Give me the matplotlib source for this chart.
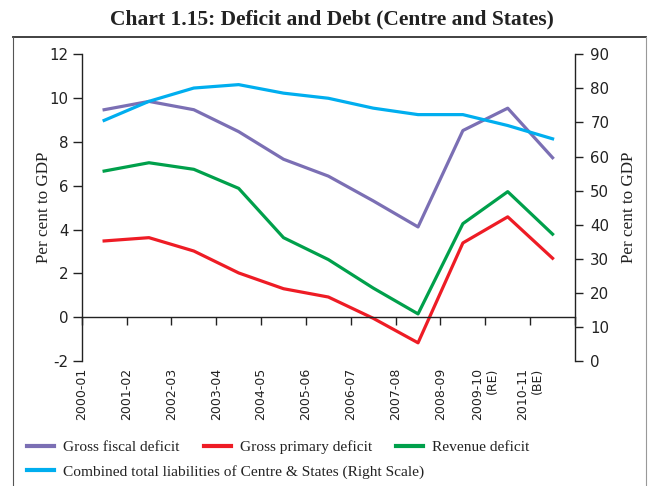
import numpy as np
import matplotlib.pyplot as plt
from matplotlib.lines import Line2D

plt.rcParams['axes.unicode_minus'] = False

# data (per cent to GDP)
years = ['2000-01', '2001-02', '2002-03', '2003-04', '2004-05', '2005-06',
         '2006-07', '2007-08', '2008-09', '2009-10\n(RE)', '2010-11\n(BE)']
gross_fiscal = [9.47, 9.85, 9.47, 8.47, 7.21, 6.44, 5.31, 4.12, 8.52, 9.54, 7.28]
gross_primary = [3.48, 3.63, 3.02, 2.02, 1.30, 0.92, -0.05, -1.17, 3.39, 4.58, 2.69]
revenue = [6.67, 7.05, 6.75, 5.88, 3.63, 2.63, 1.33, 0.15, 4.27, 5.73, 3.79]
liabilities = [70.6, 76.2, 80.1, 81.1, 78.6, 77.1, 74.2, 72.3, 72.3, 69.1, 65.2]

c_purple = '#7B6FB4'
c_red = '#EE1C25'
c_green = '#00A04B'
c_blue = '#00AEEF'

serif = 'Liberation Serif'
W, H = 648, 486

fig = plt.figure(figsize=(6.48, 4.86), dpi=100)
ax = fig.add_axes([81.7 / W, 1 - 361 / H, (575 - 81.7) / W, (361 - 54.3) / H])
ax2 = ax.twinx()

x = np.arange(len(years)) + 0.5
lw = 2.3
l1, = ax.plot(x, gross_fiscal, color=c_purple, lw=lw, label='Gross fiscal deficit')
l2, = ax.plot(x, gross_primary, color=c_red, lw=lw, label='Gross primary deficit')
l3, = ax.plot(x, revenue, color=c_green, lw=lw, label='Revenue deficit')
l4, = ax2.plot(x, liabilities, color=c_blue, lw=lw,
               label='Combined total liabilities of Centre & States (Right Scale)')

ax.set_xlim(0, len(years))
ax.set_ylim(-2, 12)
ax2.set_ylim(0, 90)
ax.set_yticks(np.arange(-2, 13, 2))
ax2.set_yticks(np.arange(0, 91, 10))

tc = '#222222'
for a in (ax, ax2):
    a.spines['top'].set_visible(False)
    a.patch.set_visible(False)
ax.spines['right'].set_visible(False)
ax2.spines['left'].set_visible(False)
ax2.spines['bottom'].set_visible(False)
ax.spines['bottom'].set_position(('data', 0))
for s in ('left', 'bottom'):
    ax.spines[s].set_color(tc)
    ax.spines[s].set_linewidth(1.0)
ax2.spines['right'].set_color(tc)
ax2.spines['right'].set_linewidth(1.0)

ax.set_xticks(np.arange(len(years) + 1))
ax.tick_params(axis='x', direction='out', length=6, width=1, color=tc, labelbottom=False)
ax.tick_params(axis='y', direction='out', length=6.5, width=1, color=tc,
               labelsize=10.8, labelcolor=tc, pad=3)
ax2.tick_params(axis='y', direction='out', length=6, width=1, color=tc,
                labelsize=10.8, labelcolor=tc, pad=5)

# year labels sit below the plot, not at the zero line
sec = ax.secondary_xaxis(0)
sec.set_xticks(np.arange(len(years)))
sec.set_xticklabels(years, rotation=90, fontsize=9, color=tc,
                    va='top', ha='center', multialignment='right')
sec.tick_params(length=0, pad=5)
sec.spines['bottom'].set_visible(False)

ax.set_ylabel('Per cent to GDP', fontfamily=serif, fontsize=12.3, color=tc, labelpad=-2)
ax2.set_ylabel('Per cent to GDP', fontfamily=serif, fontsize=12.3, color=tc, labelpad=8)

fig.text(0.513, 1 - 19 / H, 'Chart 1.15: Deficit and Debt (Centre and States)',
         ha='center', va='center', fontfamily=serif, fontweight='bold', fontsize=15.5,
         color='#222222')

# frame around the chart
fig.add_artist(Line2D([13 / W, 646 / W], [1 - 37 / H, 1 - 37 / H], transform=fig.transFigure,
                      color='#333333', lw=1.3))
fig.add_artist(Line2D([13 / W, 13 / W], [0, 1 - 37 / H], transform=fig.transFigure,
                      color='#555555', lw=0.8))
fig.add_artist(Line2D([646 / W, 646 / W], [0, 1 - 37 / H], transform=fig.transFigure,
                      color='#999999', lw=0.8))

leg_kw = dict(frameon=False, borderpad=0, borderaxespad=0, handlelength=1.75,
              handletextpad=0.6, columnspacing=1.55,
              prop={'family': serif, 'size': 11.1})
leg1 = fig.legend(handles=[l1, l2, l3], ncol=3, loc='center left',
                  bbox_to_anchor=(27 / W, 1 - 447 / H), **leg_kw)
leg2 = fig.legend(handles=[l4], loc='center left',
                  bbox_to_anchor=(27 / W, 1 - 472 / H), **leg_kw)
for leg in (leg1, leg2):
    for t in leg.get_texts():
        t.set_color(tc)
    for h in leg.legend_handles:
        h.set_linewidth(3)

fig.savefig('out.png', dpi=100)
